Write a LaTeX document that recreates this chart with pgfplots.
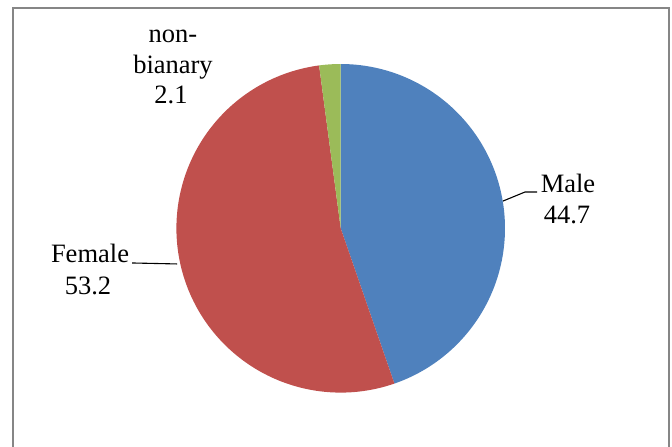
\documentclass[border=0pt]{standalone}
\usepackage{pgfplots}
\pgfplotsset{compat=1.18}
\usepackage{pgfplotstable}
\usepackage{fontspec}
\setmainfont{Liberation Serif}

\definecolor{maleblue}{HTML}{4F81BD}
\definecolor{femalered}{HTML}{C0504D}
\definecolor{nbgreen}{HTML}{9BBB59}
\definecolor{framegray}{HTML}{868686}

\pgfplotstableread{
label value
Male 44.7
Female 53.2
nonbinary 2.1
}\gendertable

\pgfkeys{/pgf/number format/.cd, assume math mode=true, fixed, precision=1, fixed zerofill}

\begin{document}
\begin{tikzpicture}[x=1pt,y=1pt]
  \useasboundingbox (0,0) rectangle (672,-447);
  % chart area frame (open at the bottom)
  \draw[framegray, line width=2pt] (12.5,-447) -- (12.5,-7.5) -- (668.5,-7.5) -- (668.5,-447);

  \pgfplotstablegetelem{0}{value}\of\gendertable \let\vMale\pgfplotsretval
  \pgfplotstablegetelem{1}{value}\of\gendertable \let\vFemale\pgfplotsretval
  \pgfplotstablegetelem{2}{value}\of\gendertable \let\vNB\pgfplotsretval
  \pgfmathsetmacro{\aA}{90}
  \pgfmathsetmacro{\aB}{\aA-3.6*\vMale}
  \pgfmathsetmacro{\aC}{\aB-3.6*\vFemale}
  \pgfmathsetmacro{\aD}{\aC-3.6*\vNB}

  \begin{axis}[
      at={(340.7pt,-228.3pt)}, anchor=origin,
      x=164.3pt, y=164.3pt,
      xmin=-1.1, xmax=1.1, ymin=-1.1, ymax=1.1,
      hide axis, clip=false]
    % slices, clockwise from the top
    \fill[maleblue] (0,0) -- plot[domain=\aA:\aB, samples=120, variable=\t] ({cos(\t)},{sin(\t)}) -- cycle;
    \fill[femalered] (0,0) -- plot[domain=\aB:\aC, samples=140, variable=\t] ({cos(\t)},{sin(\t)}) -- cycle;
    \fill[nbgreen] (0,0) -- plot[domain=\aC:\aD, samples=10, variable=\t] ({cos(\t)},{sin(\t)}) -- cycle;
    % leader lines
    \draw[black, line width=1.1pt] (0.988,0.166) -- (1.122,0.221) -- (1.195,0.221);
    \draw[black, line width=1.1pt] (-0.996,-0.217) -- (-1.270,-0.211);
  \end{axis}

  % data labels
  \begin{scope}[every node/.style={inner sep=0pt, anchor=base, font=\fontsize{26.5pt}{31pt}\selectfont}]
    \node at (173,-42) {non-};
    \node at (173,-73) {bianary};
    \node at (171,-103) {\pgfmathprintnumber{\vNB}};
    \node at (568,-192) {Male};
    \node at (567,-223) {\pgfmathprintnumber{\vMale}};
    \node at (90,-262) {Female};
    \node at (88,-294) {\pgfmathprintnumber{\vFemale}};
  \end{scope}
\end{tikzpicture}
\end{document}
